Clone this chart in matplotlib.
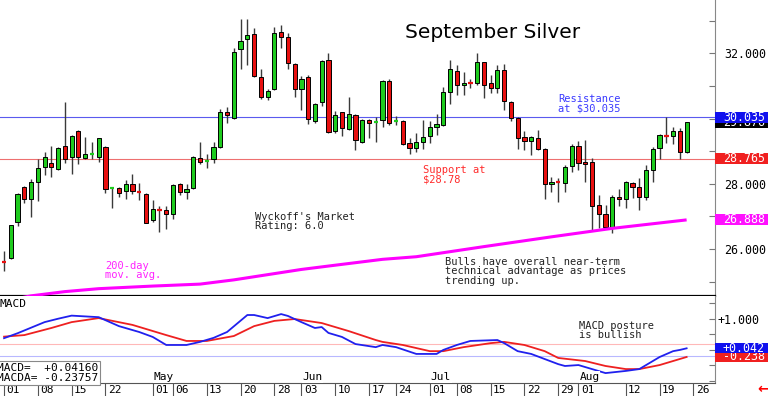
"""
September silver daily candles with 200-day average and MACD pane.
"""

import matplotlib
matplotlib.use("Agg")
import matplotlib.pyplot as plt
from matplotlib.patches import Rectangle
from matplotlib.ticker import MultipleLocator, FixedLocator
from matplotlib.transforms import blended_transform_factory

MONO = "DejaVu Sans Mono"
GREEN = "#1ecb1e"
RED = "#e81010"
WICK = "#3a3a3a"

# daily OHLC, 01 Apr .. 23 Aug (trading days)
opens = [25.60, 25.71, 26.84, 27.89, 27.54, 28.06, 28.50, 28.63, 28.44, 29.16,
         28.81, 29.62, 28.78, 28.90, 28.83, 29.13, 27.87, 27.86, 27.79, 27.98,
         27.75, 27.69, 26.89, 27.20, 27.19, 27.07, 27.98, 27.76, 27.88, 28.80,
         28.71, 28.75, 29.14, 30.19, 30.03, 32.12, 32.43, 32.58, 31.28, 30.65,
         30.90, 32.64, 32.49, 31.67, 30.91, 31.26, 29.93, 30.50, 31.80, 29.62,
         30.19, 29.68, 30.11, 29.29, 29.96, 29.89, 29.96, 31.16, 29.91, 29.92,
         29.26, 29.08, 29.29, 29.46, 29.75, 29.80, 30.82, 31.47, 31.02, 31.09,
         31.08, 31.72, 31.08, 30.93, 31.49, 30.50, 30.02, 29.44, 29.32, 29.41,
         29.07, 27.98, 28.04, 28.02, 28.54, 29.16, 28.67, 28.66, 27.35, 27.06,
         26.68, 27.60, 27.52, 28.02, 27.91, 27.60, 28.41, 29.09, 29.47, 29.46,
         29.62, 28.98]
highs = [25.95, 26.73, 27.73, 27.93, 28.13, 28.75, 28.98, 29.16, 29.14, 30.50,
         29.49, 29.65, 29.44, 29.29, 29.41, 29.16, 27.91, 27.91, 28.12, 28.30,
         28.03, 27.71, 27.50, 27.32, 27.32, 27.99, 28.03, 27.98, 28.86, 29.27,
         28.90, 29.28, 30.28, 30.34, 32.15, 33.04, 33.05, 32.77, 31.52, 30.90,
         32.82, 32.87, 32.61, 31.69, 31.30, 31.34, 30.49, 31.80, 32.00, 30.24,
         30.21, 30.67, 30.13, 29.98, 29.99, 30.06, 31.18, 31.21, 30.08, 29.95,
         29.41, 29.57, 29.95, 29.93, 30.13, 30.96, 31.80, 31.64, 31.44, 31.20,
         32.02, 31.74, 31.33, 31.64, 31.67, 30.54, 30.06, 29.62, 29.46, 29.65,
         29.09, 28.22, 28.17, 28.57, 29.22, 29.31, 29.34, 28.80, 27.65, 27.35,
         27.66, 27.84, 28.08, 28.06, 28.19, 28.57, 29.12, 29.53, 30.04, 29.75,
         29.70, 29.90]
lows = [25.33, 25.70, 26.70, 27.40, 26.99, 27.48, 28.27, 28.20, 28.42, 28.63,
        28.29, 28.60, 28.75, 28.75, 28.68, 27.71, 27.25, 27.60, 27.53, 27.67,
        27.50, 26.78, 26.84, 26.53, 26.60, 26.92, 27.65, 27.52, 27.85, 28.60,
        28.47, 28.63, 29.09, 29.85, 30.00, 31.51, 31.64, 31.28, 30.59, 30.57,
        30.88, 32.15, 31.52, 30.67, 30.26, 29.82, 29.85, 30.38, 29.55, 29.57,
        29.46, 29.65, 29.03, 29.26, 29.41, 29.29, 29.75, 29.80, 29.80, 29.19,
        28.91, 28.98, 29.05, 29.24, 29.49, 29.77, 30.45, 30.72, 30.72, 30.93,
        31.03, 30.62, 30.77, 30.77, 30.26, 29.93, 29.05, 29.03, 28.88, 29.03,
        27.53, 27.74, 27.43, 27.74, 28.37, 28.42, 28.06, 26.58, 26.65, 26.65,
        26.50, 27.32, 27.25, 27.55, 27.19, 27.50, 28.06, 28.76, 29.24, 29.22,
        28.76, 28.93]
closes = [25.58, 26.72, 27.67, 27.52, 28.06, 28.49, 28.81, 28.50, 29.11, 28.75,
          29.46, 28.81, 28.90, 28.92, 29.39, 27.83, 27.89, 27.73, 27.99, 27.78,
          27.73, 26.80, 27.21, 27.18, 27.07, 27.96, 27.76, 27.84, 28.83, 28.68,
          28.73, 29.14, 30.20, 30.12, 32.03, 32.39, 32.55, 31.31, 30.65, 30.85,
          32.63, 32.49, 31.69, 30.92, 31.20, 29.98, 30.44, 31.77, 29.58, 30.12,
          29.70, 30.13, 29.34, 29.96, 29.85, 29.91, 31.15, 29.85, 29.93, 29.22,
          29.09, 29.27, 29.44, 29.75, 29.83, 30.80, 31.52, 31.03, 31.09, 31.07,
          31.72, 31.02, 30.93, 31.49, 30.55, 30.01, 29.39, 29.32, 29.42, 29.07,
          27.98, 28.05, 28.02, 28.52, 29.16, 28.63, 28.61, 27.33, 27.08, 26.68,
          27.60, 27.52, 28.04, 27.89, 27.60, 28.41, 29.07, 29.49, 29.45, 29.63,
          28.98, 29.88]

# 200-day moving average, read at a few days
ma_idx = [0, 4, 9, 14, 22, 29, 34, 39, 44, 49, 56, 61, 71, 81, 90, 101]
ma_vals = [24.40, 24.56, 24.69, 24.78, 24.86, 24.92, 25.05, 25.21, 25.37, 25.50,
           25.68, 25.76, 26.07, 26.37, 26.63, 26.89]

# MACD (blue) and its average (red)
macd_idx = [0, 2, 6, 8, 10, 14, 17, 20, 22, 24, 27, 29, 31, 33, 36, 37, 39, 41,
            42, 44, 46, 47, 48, 50, 52, 55, 56, 58, 61, 64, 65, 67, 69, 73, 74,
            76, 78, 82, 83, 85, 87, 89, 92, 94, 97, 99, 100, 101]
macd_vals = [0.37, 0.53, 0.89, 1.00, 1.10, 1.05, 0.76, 0.57, 0.41, 0.15, 0.15,
             0.25, 0.38, 0.57, 1.12, 1.12, 1.02, 1.15, 1.09, 0.89, 0.70, 0.73,
             0.54, 0.41, 0.18, 0.08, 0.15, 0.08, -0.14, -0.14, -0.01, 0.15, 0.28,
             0.31, 0.21, -0.05, -0.14, -0.47, -0.53, -0.50, -0.63, -0.76, -0.69,
             -0.63, -0.24, -0.05, -0.01, 0.042]
macda_idx = [0, 3, 7, 10, 14, 19, 24, 27, 30, 34, 37, 40, 43, 47, 51, 55, 56, 59,
             63, 65, 68, 72, 74, 77, 80, 82, 86, 89, 92, 94, 97, 101]
macda_vals = [0.42, 0.47, 0.70, 0.89, 1.02, 0.80, 0.47, 0.28, 0.28, 0.44, 0.76,
              0.93, 0.99, 0.86, 0.60, 0.31, 0.25, 0.15, -0.05, -0.05, 0.08, 0.21,
              0.25, 0.15, -0.05, -0.27, -0.37, -0.53, -0.63, -0.63, -0.50, -0.238]

resistance = 30.035
support = 28.765
ma_last = 26.888
last_close = 29.876
macd_last = 0.04160
macda_last = -0.23757

day_ticks = [0, 5, 10, 15, 22, 25, 30, 35, 40, 44, 49, 54, 58, 63, 67, 72, 77,
             82, 85, 92, 97, 102]
day_labels = ["01", "08", "15", "22", "01", "06", "13", "20", "28", "03", "10",
              "17", "24", "01", "08", "15", "22", "29", "01", "12", "19", "26"]
month_ticks = [22, 44, 63, 85]
month_labels = ["May", "Jun", "Jul", "Aug"]


def value_box(axis, value, text, color, height, z):
    """Coloured label box sitting on the right axis."""
    tr = blended_transform_factory(axis.transAxes, axis.transData)
    axis.add_patch(Rectangle((1.0, value - height / 2), 0.08, height, transform=tr,
                             facecolor=color, edgecolor="none", clip_on=False, zorder=z))
    axis.text(1.011, value, text, transform=tr, color="white", fontsize=8.4,
              family=MONO, ha="left", va="center", clip_on=False, zorder=z + 0.5)


fig = plt.figure(figsize=(7.68, 3.96), dpi=100)
ax = fig.add_axes([0.0, 0.2525, 0.931, 0.7475])
mx = fig.add_axes([0.0, 0.0328, 0.931, 0.2197])

xmin, xmax = -0.6, 105.2

# ---- price pane
for i, (o, h, l, c) in enumerate(zip(opens, highs, lows, closes)):
    color = GREEN if c >= o else RED
    ax.vlines(i, l, h, color=WICK, lw=1, zorder=2)
    if abs(c - o) < 0.03:
        ax.hlines(o, i - 0.32, i + 0.32, color=color, lw=1.6, zorder=3)
    else:
        ax.bar(i, abs(c - o), bottom=min(o, c), width=0.62, color=color,
               edgecolor="black", linewidth=0.7, zorder=3)

ax.plot(ma_idx, ma_vals, color="#ff00ff", lw=2.2, zorder=4, solid_capstyle="butt")
ax.axhline(resistance, color="#5a5aee", lw=0.8, zorder=1)
ax.axhline(support, color="#ee7070", lw=0.8, zorder=1)

ax.set_xlim(xmin, xmax)
ax.set_ylim(24.555, 33.635)
ax.set_xticks([])
ax.yaxis.tick_right()
ax.set_yticks([26, 28, 30, 32])
ax.set_yticklabels([f"{v:.3f}" for v in [26, 28, 30, 32]], family=MONO, fontsize=8.4)
ax.yaxis.set_minor_locator(MultipleLocator(1))
ax.tick_params(axis="y", which="both", direction="in", length=4, width=0.8,
               color="#777777", pad=6.5)
for side in ["left", "top"]:
    ax.spines[side].set_visible(False)
ax.spines["right"].set_color("#888888")
ax.spines["bottom"].set_color("black")
ax.spines["bottom"].set_linewidth(1.6)

ax.text(59.4, 32.65, "September Silver", fontsize=14.5, family="DejaVu Sans",
        ha="left", va="center")
ax.text(82, 30.44, "Resistance\nat $30.035", color="#3a3aff", fontsize=7.5,
        family=MONO, ha="left", va="center", linespacing=0.95)
ax.text(62, 28.27, "Support at\n$28.78", color="#ff2a2a", fontsize=7.5,
        family=MONO, ha="left", va="center", linespacing=0.95)
ax.text(37.1, 26.84, "Wyckoff's Market\nRating: 6.0", color="#222222",
        fontsize=7.5, family=MONO, ha="left", va="center", linespacing=0.95)
ax.text(14.9, 25.34, "200-day\nmov. avg.", color="#ff22ff", fontsize=7.5,
        family=MONO, ha="left", va="center", linespacing=0.95)
ax.text(65.2, 25.31, "Bulls have overall near-term\ntechnical advantage as prices\ntrending up.",
        color="#222222", fontsize=7.5, family=MONO, ha="left", va="center",
        linespacing=0.95)

value_box(ax, last_close, f"{last_close:.3f}", "black", 0.34, 10)
value_box(ax, resistance, f"{resistance:.3f}", "#1010ee", 0.34, 11)
value_box(ax, support, f"{support:.3f}", "#f02020", 0.34, 12)
value_box(ax, ma_last, f"{ma_last:.3f}", "#ff10ff", 0.34, 13)

# ---- MACD pane
mx.axhline(0.18, color="#ffb8b8", lw=0.8, zorder=1)
mx.axhline(-0.21, color="#b8b8ff", lw=0.8, zorder=1)
mx.plot(macda_idx, macda_vals, color="#ee2020", lw=1.3, zorder=3)
mx.plot(macd_idx, macd_vals, color="#2020ee", lw=1.3, zorder=4)

mx.set_xlim(xmin, xmax)
mx.set_ylim(-1.081, 1.735)
mx.yaxis.tick_right()
mx.set_yticks([1.0])
mx.set_yticklabels(["+1.000"], family=MONO, fontsize=8.4)
mx.yaxis.set_minor_locator(MultipleLocator(0.5))
mx.tick_params(axis="y", which="both", direction="in", length=4, width=0.8,
               color="#777777", pad=1.5)
mx.xaxis.set_major_locator(FixedLocator(day_ticks))
mx.tick_params(axis="x", direction="out", length=9.4, width=0.8, color="#555555",
               labelbottom=False)
mx.spines["left"].set_visible(False)
mx.spines["top"].set_visible(False)
mx.spines["right"].set_color("#888888")
mx.spines["bottom"].set_color("#555555")

xtr = blended_transform_factory(mx.transData, mx.transAxes)
for t, lab in zip(day_ticks, day_labels):
    mx.text(t + 0.35, -0.078, lab, transform=xtr, fontsize=8, family=MONO,
            ha="left", va="center", clip_on=False)
for t, lab in zip(month_ticks, month_labels):
    mx.text(t + 0.15, -0.887, lab, fontsize=8, family=MONO, ha="left",
            va="center", zorder=5,
            bbox=dict(boxstyle="square,pad=0.05", fc="white", ec="none"))

mx.text(0.0, 1.48, "MACD", fontsize=8, family=MONO, ha="left", va="center",
        transform=blended_transform_factory(mx.transAxes, mx.transData))
mx.text(85.1, 0.618, "MACD posture\nis bullish", fontsize=7.5, family=MONO,
        color="#222222", ha="left", va="center", linespacing=0.95)
mx.text(-0.004, 0.0, f"MACD=  {macd_last:+.5f}\nMACDA= {macda_last:+.5f}",
        transform=mx.transAxes, fontsize=8, family=MONO, ha="left", va="bottom",
        linespacing=1.0, zorder=6,
        bbox=dict(boxstyle="square,pad=0.18", fc="white", ec="#888888", lw=0.8))

value_box(mx, macda_last, f"{macda_last:+.3f}", "#f02020", 0.32, 10)
value_box(mx, macd_last, f"{macd_last:+.3f}", "#1010ee", 0.32, 11)

fig.text(763 / 768, 0.018, "\u2190", color="red", fontsize=10, fontweight="bold",
         ha="center", va="center")

fig.savefig("out.png", dpi=100)
